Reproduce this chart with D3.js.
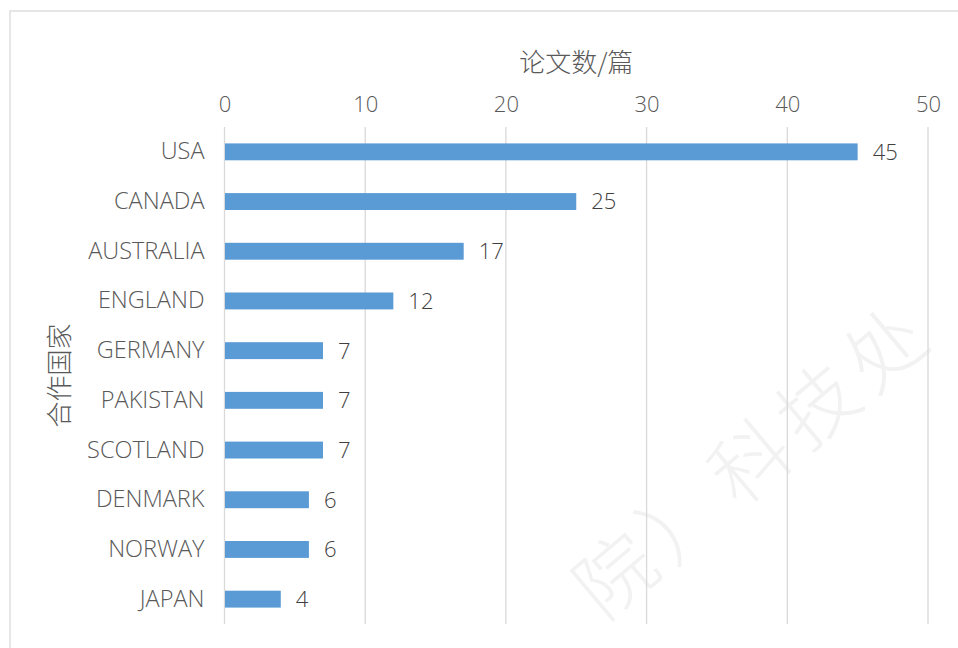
<!DOCTYPE html>
<html>
<head>
<meta charset="utf-8">
<script src="https://cdn.jsdelivr.net/npm/d3@7"></script>
<style>
  body { margin: 0; background: #fff; }
  text { font-family: "Noto Sans CJK SC", "Noto Sans", sans-serif; }
</style>
</head>
<body>
<div id="chart"></div>
<script>
// 合作国家 vs 论文数 horizontal bar chart

const width = 958, height = 648;

const countries = ["USA", "CANADA", "AUSTRALIA", "ENGLAND", "GERMANY", "PAKISTAN", "SCOTLAND", "DENMARK", "NORWAY", "JAPAN"];
const papers = [45, 25, 17, 12, 7, 7, 7, 6, 6, 4];
const ticks = [0, 10, 20, 30, 40, 50];

const margin = { top: 127, right: 30, bottom: 24, left: 224.5 };
const latin = "'Open Sans', 'Noto Sans', sans-serif";

const svg = d3.select("#chart")
  .append("svg")
  .attr("width", width)
  .attr("height", height);

// outer frame
svg.append("rect")
  .attr("x", 10)
  .attr("y", 11)
  .attr("width", width + 20)
  .attr("height", height + 20)
  .attr("fill", "none")
  .attr("stroke", "#d9d9d9")
  .attr("stroke-width", 1.3);

const x = d3.scaleLinear()
  .domain([0, 50])
  .range([margin.left, 928]);

const y = d3.scaleBand()
  .domain(countries)
  .range([margin.top, height - margin.bottom])
  .paddingInner(0.66)
  .paddingOuter(0.33);

// faint watermark
svg.append("text")
  .attr("transform", "translate(604,622) rotate(-40)")
  .attr("font-family", "'Noto Serif CJK SC', 'Noto Sans CJK SC', serif")
  .attr("font-size", 78)
  .attr("font-weight", 300)
  .attr("fill", "#f2f2f2")
  .attr("letter-spacing", 10)
  .text("院）科技处");

// grid lines
svg.append("g")
  .selectAll("line")
  .data(ticks)
  .join("line")
  .attr("x1", d => x(d))
  .attr("x2", d => x(d))
  .attr("y1", margin.top)
  .attr("y2", height - margin.bottom)
  .attr("stroke", "#d9d9d9")
  .attr("stroke-width", 1.3);

// top axis labels
const xAxis = svg.append("g")
  .attr("transform", `translate(0,${margin.top - 15})`)
  .call(d3.axisTop(x).tickValues(ticks).tickSize(0).tickPadding(0));
xAxis.select(".domain").remove();
xAxis.selectAll("text")
  .attr("font-size", 22)
  .attr("font-weight", 300)
  .attr("fill", "#595959")
  .style("font-family", latin);

// bars
svg.append("g")
  .selectAll("rect")
  .data(countries)
  .join("rect")
  .attr("x", x(0) + 0.5)
  .attr("y", d => y(d))
  .attr("width", (d, i) => x(papers[i]) - x(0) - 0.5)
  .attr("height", y.bandwidth())
  .attr("fill", "#5b9bd5");

// value labels
svg.append("g")
  .selectAll("text")
  .data(countries)
  .join("text")
  .attr("x", (d, i) => x(papers[i]) + 15)
  .attr("y", d => y(d) + y.bandwidth() / 2)
  .attr("dy", "0.36em")
  .attr("font-size", 22)
  .attr("font-weight", 300)
  .attr("fill", "#404040")
  .style("font-family", latin)
  .text((d, i) => papers[i]);

// category labels
const yAxis = svg.append("g")
  .attr("transform", `translate(${x(0) - 20},0)`)
  .call(d3.axisLeft(y).tickSize(0).tickPadding(0));
yAxis.select(".domain").remove();
yAxis.selectAll("text")
  .attr("font-size", 23.5)
  .attr("font-weight", 300)
  .attr("fill", "#595959")
  .style("font-family", latin);

// axis titles
svg.append("text")
  .attr("x", (x(0) + x(50)) / 2)
  .attr("y", 63)
  .attr("dy", "0.35em")
  .attr("text-anchor", "middle")
  .attr("font-size", 26)
  .attr("font-weight", 300)
  .attr("fill", "#595959")
  .text("论文数/篇");

svg.append("text")
  .attr("transform", `translate(60,${(margin.top + height - margin.bottom) / 2}) rotate(-90)`)
  .attr("dy", "0.35em")
  .attr("text-anchor", "middle")
  .attr("font-size", 26)
  .attr("font-weight", 300)
  .attr("fill", "#595959")
  .text("合作国家");
</script>
</body>
</html>
